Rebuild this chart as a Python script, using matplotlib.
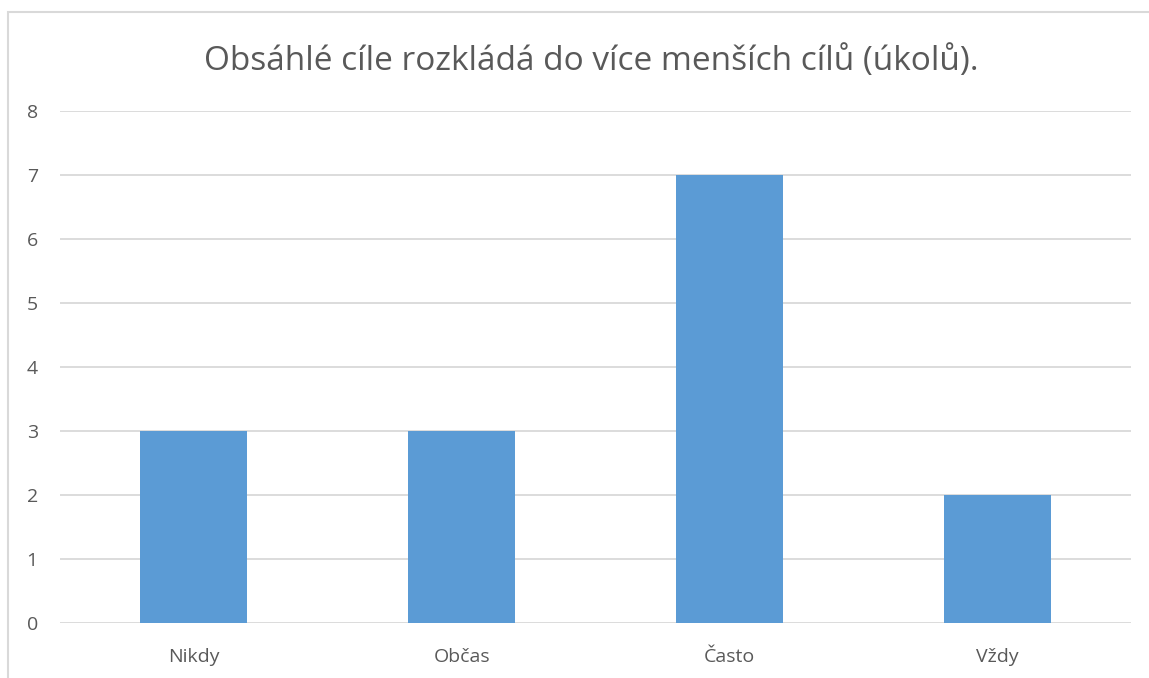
import matplotlib.pyplot as plt
from matplotlib.patches import Rectangle
import numpy as np

categories = ["Nikdy", "Občas", "Často", "Vždy"]
counts = [3, 3, 7, 2]
title = "Obsáhlé cíle rozkládá do více menších cílů (úkolů)."

plt.rcParams['font.family'] = ['Open Sans', 'DejaVu Sans']
text_color = "#595959"

fig = plt.figure(figsize=(11.49, 6.78), dpi=100)
# chart border (light gray frame, cut off on right and bottom)
fig.patches.append(Rectangle((8 / 1149, -0.05), 1.2, 1 - 12 / 678 + 0.05,
                             transform=fig.transFigure, fill=False,
                             edgecolor="#d9d9d9", linewidth=1.5))

ax = fig.add_axes([60 / 1149, 1 - 623 / 678, (1131 - 60) / 1149, (623 - 111) / 678])

x = np.arange(len(categories))
ax.bar(x, counts, width=0.4, color="#5b9bd5", zorder=3)

ax.set_xlim(-0.5, len(categories) - 0.5)
ax.set_ylim(0, 8)
ax.set_yticks(range(0, 9))
ax.yaxis.grid(True, color="#d9d9d9", linewidth=1.3, zorder=0)
ax.set_xticks(x, categories)

for s in ax.spines.values():
    s.set_visible(False)
ax.tick_params(axis='both', length=0, colors=text_color, labelsize=14)
ax.tick_params(axis='y', pad=16)
ax.tick_params(axis='x', pad=18)

fig.text(591 / 1149, 1 - 70 / 678, title, ha='center', va='baseline',
         fontsize=24, color=text_color)

fig.savefig("out.png", dpi=100)
